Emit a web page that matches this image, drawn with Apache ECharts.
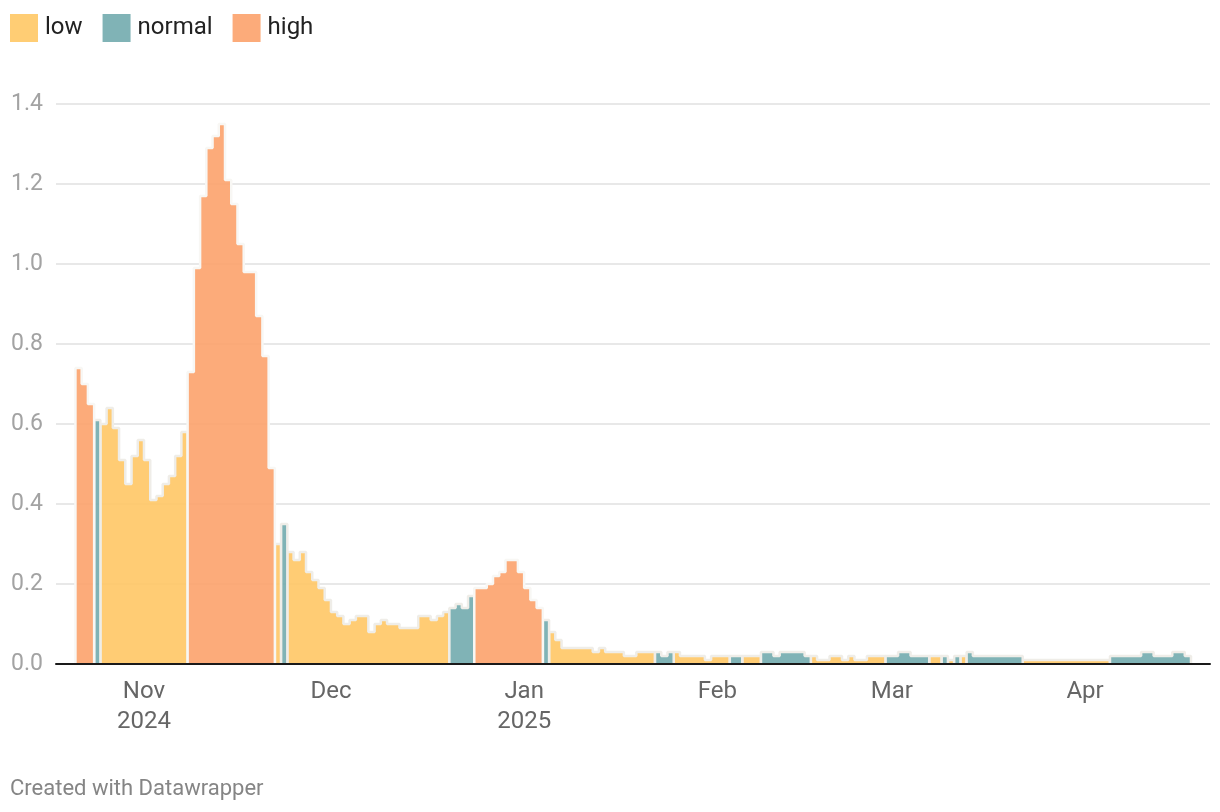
<!DOCTYPE html>
<html>
<head>
<meta charset="utf-8">
<script src="https://cdn.jsdelivr.net/npm/echarts@6/dist/echarts.min.js"></script>
<style>
html,body{margin:0;padding:0;background:#ffffff;}
#chart{width:1220px;height:812px;}
</style>
</head>
<body>
<div id="chart"></div>
<script>
// ---- data ----
const startDate = '2024-10-21';           // first day shown
const seriesNames = ['low', 'normal', 'high'];
const levelCodes = ['L', 'N', 'H'];

// one value per day, starting at startDate
const values = [
  0.74,0.70,0.65,0.61,0.60,0.64,0.59,0.51,0.45,0.52,
  0.56,0.51,0.41,0.42,0.45,0.47,0.52,0.58,0.73,0.99,
  1.17,1.29,1.32,1.35,1.21,1.15,1.05,0.98,0.98,0.87,
  0.77,0.49,0.30,0.35,0.28,0.26,0.28,0.23,0.21,0.19,
  0.16,0.13,0.12,0.10,0.11,0.12,0.12,0.08,0.10,0.11,
  0.10,0.10,0.09,0.09,0.09,0.12,0.12,0.11,0.12,0.13,
  0.14,0.15,0.14,0.17,0.19,0.19,0.20,0.22,0.23,0.26,
  0.26,0.23,0.19,0.16,0.14,0.11,0.08,0.06,0.04,0.04,
  0.04,0.04,0.04,0.03,0.04,0.03,0.03,0.03,0.02,0.02,
  0.03,0.03,0.03,0.03,0.02,0.03,0.03,0.02,0.02,0.02,
  0.02,0.01,0.02,0.02,0.02,0.02,0.02,0.02,0.02,0.02,
  0.03,0.03,0.02,0.03,0.03,0.03,0.03,0.02,0.02,0.01,
  0.01,0.02,0.02,0.01,0.02,0.01,0.01,0.02,0.02,0.02,
  0.02,0.02,0.03,0.03,0.02,0.02,0.02,0.02,0.02,0.02,
  0.01,0.02,0.02,0.03,0.02,0.02,0.02,0.02,0.02,0.02,
  0.02,0.02,0.01,0.01,0.01,0.01,0.01,0.01,0.01,0.01,
  0.01,0.01,0.01,0.01,0.01,0.01,0.02,0.02,0.02,0.02,
  0.02,0.03,0.03,0.02,0.02,0.02,0.03,0.03,0.02
];

// level of each day: L = low, N = normal, H = high
const levels = [
  'H','H','H','N','L','L','L','L','L','L',
  'L','L','L','L','L','L','L','L','H','H',
  'H','H','H','H','H','H','H','H','H','H',
  'H','H','L','N','L','L','L','L','L','L',
  'L','L','L','L','L','L','L','L','L','L',
  'L','L','L','L','L','L','L','L','L','L',
  'N','N','N','N','H','H','H','H','H','H',
  'H','H','H','H','H','N','L','L','L','L',
  'L','L','L','L','L','L','L','L','L','L',
  'L','L','L','N','N','N','L','L','L','L',
  'L','L','L','L','L','N','N','L','L','L',
  'N','N','N','N','N','N','N','N','L','L',
  'L','L','L','L','L','L','L','L','L','L',
  'N','N','N','N','N','N','N','L','L','N',
  'L','N','L','N','N','N','N','N','N','N',
  'N','N','L','L','L','L','L','L','L','L',
  'L','L','L','L','L','L','N','N','N','N',
  'N','N','N','N','N','N','N','N','N'
];

const monthTickDates = ['2024-11-01','2024-12-01','2025-01-01','2025-02-01','2025-03-01','2025-04-01'];
const monthTickLabels = ['Nov\n2024','Dec','Jan\n2025','Feb','Mar','Apr'];
const yTickValues = [0, 0.2, 0.4, 0.6, 0.8, 1.0, 1.2, 1.4];

// ---- styling ----
const legendColors  = { L: '#ffcd74', N: '#80b3b6', H: '#fcab7a' };
const fillColors    = { L: '#ffc765', N: '#72abae', H: '#fca26b' };
const outlineColors = { L: '#efede8', N: '#efede8', H: '#f8f7f4' };
const FONT = 'Roboto, "Noto Sans", sans-serif';

// ---- build ----
const DAY = 86400000;
const t0 = Date.parse(startDate + 'T00:00:00Z');
const dayOf = (s) => Math.round((Date.parse(s + 'T00:00:00Z') - t0) / DAY);
const tickDays = monthTickDates.map(dayOf);
const tickLabelByDay = {};
tickDays.forEach((d, i) => { tickLabelByDay[d] = monthTickLabels[i]; });

const n = values.length;
const runs = [];
for (let i = 0; i < n;) {
  let j = i;
  while (j < n && levels[j] === levels[i]) j++;
  runs.push({ code: levels[i], s: i, e: j });
  i = j;
}

const series = [];
levelCodes.forEach((code, k) => {
  runs.filter(r => r.code === code).forEach(r => {
    const data = [[r.s, 0]];
    for (let d = r.s; d < r.e; d++) data.push([d, values[d]]);
    data.push([r.e, 0]);
    series.push({
      type: 'line',
      name: seriesNames[k],
      step: 'end',
      data: data,
      symbol: 'none',
      showSymbol: false,
      smooth: false,
      lineStyle: { color: outlineColors[code], width: 2.5 },
      itemStyle: { color: legendColors[code] },
      areaStyle: { color: fillColors[code], opacity: 0.9 },
      emphasis: { disabled: true },
      z: 2 + k,
      animation: false
    });
  });
});

const chart = echarts.init(document.getElementById('chart'), null, { renderer: 'canvas' });
chart.setOption({
  animation: false,
  backgroundColor: '#ffffff',
  textStyle: { fontFamily: FONT },
  legend: {
    left: 10,
    top: 14,
    padding: 0,
    itemWidth: 28,
    itemHeight: 28,
    itemGap: 20,
    selectedMode: false,
    textStyle: { fontSize: 24, color: '#222222', fontFamily: FONT, padding: [0, 0, 0, 2] },
    data: levelCodes.map((code, k) => ({
      name: seriesNames[k],
      icon: 'rect',
      itemStyle: { color: legendColors[code], borderWidth: 0 }
    }))
  },
  grid: { left: 56, right: 10, top: 104, bottom: 148, containLabel: false },
  xAxis: {
    type: 'value',
    min: -3.12,
    max: 182.05,
    z: 10,
    splitLine: { show: false },
    axisTick: { show: false },
    axisLine: { show: true, lineStyle: { color: '#1a1a1a', width: 2 } },
    axisLabel: {
      customValues: tickDays,
      formatter: (v) => tickLabelByDay[Math.round(v)] || '',
      color: '#666666',
      fontSize: 24,
      lineHeight: 30,
      margin: 13,
      fontFamily: FONT
    }
  },
  yAxis: {
    type: 'value',
    min: 0,
    max: 1.4,
    interval: 0.2,
    axisLine: { show: false },
    axisTick: { show: false },
    splitLine: { show: true, lineStyle: { color: '#e8e8e8', width: 2 } },
    axisLabel: {
      customValues: yTickValues,
      formatter: (v) => v.toFixed(1),
      color: '#a3a3a3',
      fontSize: 23,
      align: 'left',
      margin: 45,
      fontFamily: FONT
    }
  },
  graphic: [{
    type: 'text',
    left: 10,
    top: 778,
    style: { text: 'Created with Datawrapper', fill: '#858585', fontSize: 22, fontFamily: FONT }
  }],
  series: series
});
</script>
</body>
</html>
